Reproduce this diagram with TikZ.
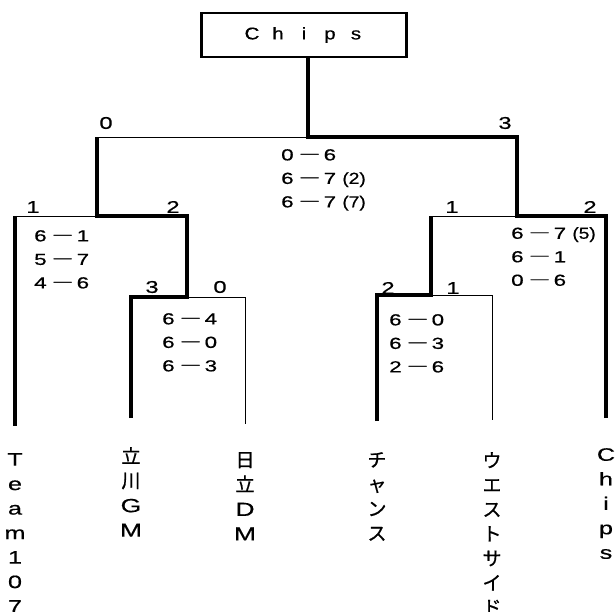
\documentclass[tikz,border=0pt]{standalone}
\usepackage{fontspec}
\setmainfont[FakeStretch=1.2, FakeBold=0.6]{Liberation Sans}
\newfontfamily\num[FakeStretch=1.4, FakeBold=0.6]{Liberation Sans}
\newfontfamily\jp[FakeBold=0.8]{Noto Sans CJK JP}
\newcommand\dash{\kern7pt{\jp\fontsize{18}{20}\selectfont\raisebox{-0.8pt}{─}}\kern5pt}

\begin{document}
\begin{tikzpicture}[x=1pt, y=-1pt,
	win/.style={line width=3.5pt},
	lose/.style={line width=0.9pt},
	score/.style={anchor=north west, inner sep=0pt, align=left, font=\fontsize{16}{23.5}\selectfont\num},
	wins/.style={inner sep=0pt, font=\fontsize{17}{20}\selectfont\num},
	team/.style={anchor=north, inner sep=0pt, align=center, font=\fontsize{18}{24.5}\selectfont\num},
	jteam/.style={team, font=\fontsize{19}{24.5}\selectfont\jp}]

	\useasboundingbox (0,0) rectangle (616,612);

	% champion box
	\node[draw, line width=2.5pt, minimum width=205pt, minimum height=44pt,
		inner sep=0pt, font=\fontsize{17}{20}\selectfont] (champ) at (304,35)
		{\makebox[26pt]{C}\makebox[26pt]{h}\makebox[26pt]{i}\makebox[26pt]{p}\makebox[26pt]{s}};

	% final
	\coordinate (F) at (308,137);
	\coordinate (FL) at (97,137);
	\coordinate (FR) at (517,137);

	% left semi final
	\coordinate (SLa) at (15,216);
	\coordinate (SL) at (97,216);
	\coordinate (SLb) at (187,216);

	% left first round
	\coordinate (QLa) at (131,297);
	\coordinate (QL) at (187,297);
	\coordinate (QLb) at (245,297);

	% right semi final
	\coordinate (SRa) at (431,216);
	\coordinate (SR) at (517,216);
	\coordinate (SRb) at (606,216);

	% right first round
	\coordinate (QRa) at (377,295);
	\coordinate (QR) at (431,295);
	\coordinate (QRb) at (492,295);

	% line ends above the teams
	\coordinate (E1) at (15,426);
	\coordinate (E2) at (131,418);
	\coordinate (E3) at (245,424);
	\coordinate (E4) at (377,421);
	\coordinate (E5) at (492,420);
	\coordinate (E6) at (606,418);

	% lost lines
	\draw[lose] (FL) -- (F);
	\draw[lose] (SLa) -- (SL);
	\draw[lose] (QL) -- (QLb) -- (E3);
	\draw[lose] (SRa) -- (SR);
	\draw[lose] (QR) -- (QRb) -- (E5);

	% won lines
	\draw[win] (SLa) -- (E1);
	\draw[win] (E2) -- (QLa) -- (QL) -- (SLb) -- (SL) -- (FL);
	\draw[win] (E4) -- (QRa) -- (QR) -- (SRa);
	\draw[win] (E6) -- (SRb) -- (SR) -- (FR) -- (F) -- (champ.south -| F);

	% games won
	\node[wins] (w1) at (106,123) {0};
	\node[wins] (w2) at (505,123) {3};
	\node[wins] (w3) at (33,207) {1};
	\node[wins] (w4) at (173,207) {2};
	\node[wins] (w5) at (452,207) {1};
	\node[wins] (w6) at (590,207) {2};
	\node[wins] (w7) at (152,287) {3};
	\node[wins] (w8) at (220,287) {0};
	\node[wins] (w9) at (388,288) {2};
	\node[wins] (w10) at (453,288) {1};

	% set scores
	\node[score] (s1) at (281,149) {0\dash 6\\6\dash 7 {\rmfamily(2)}\\6\dash 7 {\rmfamily(7)}};
	\node[score] (s2) at (34,230) {6\dash 1\\5\dash 7\\4\dash 6};
	\node[score] (s3) at (162,313) {6\dash 4\\6\dash 0\\6\dash 3};
	\node[score] (s4) at (511,227) {6\dash 7 {\rmfamily(5)}\\6\dash 1\\0\dash 6};
	\node[score] (s5) at (389,314) {6\dash 0\\6\dash 3\\2\dash 6};

	% teams
	\node[team] (t1) at (15,453) {T\\e\\a\\m\\1\\0\\7};
	\node[jteam] (t2) at (131,447) {立\\川\\{\num G}\\{\num M}};
	\node[jteam] (t3) at (245,452) {日\\立\\{\num D}\\{\num M}};
	\node[jteam] (t4) at (377,452) {チ\\ャ\\ン\\ス};
	\node[jteam] (t5) at (492,452) {ウ\\エ\\ス\\ト\\サ\\イ\\ド};
	\node[team] (t6) at (606,448) {C\\h\\i\\p\\s};

\end{tikzpicture}
\end{document}
